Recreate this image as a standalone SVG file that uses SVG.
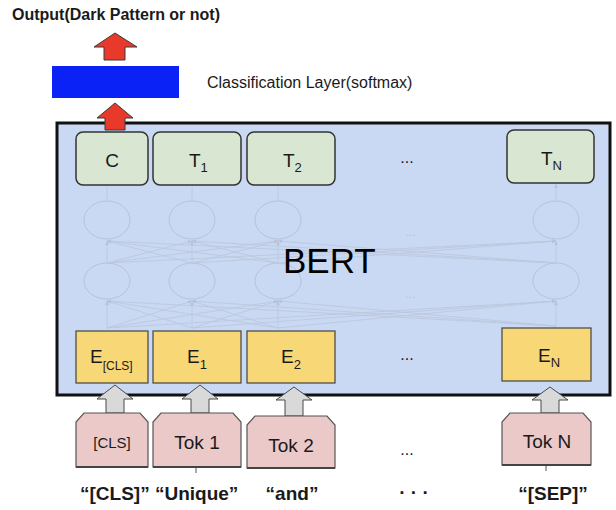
<svg xmlns="http://www.w3.org/2000/svg" width="616" height="510" viewBox="0 0 616 510">
<defs>
<style>
.t{font-family:"Liberation Sans",Arial,sans-serif;fill:#1a1a1a}
.b{font-weight:bold}
.tbox{fill:#d9e6d2;stroke:#333;stroke-width:1.5}
.ebox{fill:#f8d776;stroke:#444;stroke-width:1.2}
.tok{fill:#ecc9c9;stroke:#555;stroke-width:1.2}
.nn{fill:none;stroke:#b6c2da;stroke-width:1}
.nnl{stroke:#bcc7dd;stroke-width:0.9;fill:none;marker-end:url(#ah)}
.red{fill:#e8392b;stroke:#3a3a3a;stroke-width:1}
.gray{fill:#d9d9d9;stroke:#4a4a4a;stroke-width:1}
</style>
<marker id="ah" viewBox="0 0 10 10" refX="9" refY="5" markerWidth="5" markerHeight="5" orient="auto">
<path d="M0,1 L10,5 L0,9 z" fill="#b6c2da"/>
</marker>
</defs>
<rect width="616" height="510" fill="#fff"/>

<text class="t b" x="12" y="20" font-size="16">Output(Dark Pattern or not)</text>

<g id="classifier">
<rect x="52" y="66" width="127" height="32" fill="#0a22f5"/>
<text class="t" x="207" y="88" font-size="16">Classification Layer(softmax)</text>
</g>

<g id="bert">
<rect x="57" y="123" width="553" height="272" fill="#c9d9f3" stroke="#111" stroke-width="3"/>
</g>

<g id="network">
<ellipse class="nn" cx="107" cy="220" rx="23" ry="19"/>
<ellipse class="nn" cx="192" cy="220" rx="23" ry="19"/>
<ellipse class="nn" cx="278" cy="220" rx="23" ry="19"/>
<ellipse class="nn" cx="556" cy="220" rx="23" ry="19"/>
<ellipse class="nn" cx="107" cy="281" rx="23" ry="18"/>
<ellipse class="nn" cx="192" cy="281" rx="23" ry="18"/>
<ellipse class="nn" cx="278" cy="281" rx="23" ry="18"/>
<ellipse class="nn" cx="556" cy="281" rx="23" ry="18"/>
<text x="410" y="236" font-family="Liberation Sans,sans-serif" font-size="12" fill="#b6c2da" text-anchor="middle">...</text>
<text x="410" y="298" font-family="Liberation Sans,sans-serif" font-size="12" fill="#b6c2da" text-anchor="middle">...</text>
</g>

<g id="connectors">
<path class="nnl" d="M107,201 V186 M192,201 V186 M278,201 V186 M556,201 V184" />
<path class="nnl" d="M107,263 L107,241"/><path class="nnl" d="M192,263 L107,241"/><path class="nnl" d="M278,263 L107,241"/><path class="nnl" d="M556,263 L107,241"/>
<path class="nnl" d="M107,263 L192,241"/><path class="nnl" d="M192,263 L192,241"/><path class="nnl" d="M278,263 L192,241"/><path class="nnl" d="M556,263 L192,241"/>
<path class="nnl" d="M107,263 L278,241"/><path class="nnl" d="M192,263 L278,241"/><path class="nnl" d="M278,263 L278,241"/><path class="nnl" d="M556,263 L278,241"/>
<path class="nnl" d="M107,263 L556,241"/><path class="nnl" d="M192,263 L556,241"/><path class="nnl" d="M278,263 L556,241"/><path class="nnl" d="M556,263 L556,241"/>
<path class="nnl" d="M107,328 L107,301"/><path class="nnl" d="M192,328 L107,301"/><path class="nnl" d="M278,328 L107,301"/><path class="nnl" d="M556,326 L107,301"/>
<path class="nnl" d="M107,328 L192,301"/><path class="nnl" d="M192,328 L192,301"/><path class="nnl" d="M278,328 L192,301"/><path class="nnl" d="M556,326 L192,301"/>
<path class="nnl" d="M107,328 L278,301"/><path class="nnl" d="M192,328 L278,301"/><path class="nnl" d="M278,328 L278,301"/><path class="nnl" d="M556,326 L278,301"/>
<path class="nnl" d="M107,328 L556,301"/><path class="nnl" d="M192,328 L556,301"/><path class="nnl" d="M278,328 L556,301"/><path class="nnl" d="M556,326 L556,301"/>
<path class="red" d="M115,33 L137,47 L125,47 L125,60 L104,60 L104,47 L94,47 Z"/>
<path class="red" d="M115,103 L133,118 L125,118 L125,130 L105,130 L105,118 L97,118 Z"/>
<path class="gray" d="M115,385 L133,399 L124,399 L124,413 L106,413 L106,399 L97,399 Z"/>
<path class="gray" d="M200,385 L218,399 L209,399 L209,413 L191,413 L191,399 L182,399 Z"/>
<path class="gray" d="M294,387 L312,400 L303,400 L303,416 L285,416 L285,400 L276,400 Z"/>
<path class="gray" d="M550,387 L568,400 L559,400 L559,413 L541,413 L541,400 L532,400 Z"/>
<path d="M196,467 V473 M546,465 V471" stroke="#555" stroke-width="1"/>
</g>

<g id="bert-label"><text class="t" x="283" y="273" font-size="35" style="fill:#000">BERT</text></g>

<g id="C"><rect class="tbox" x="76" y="132" width="72" height="53" rx="7"/><text class="t" x="112" y="167" font-size="19" text-anchor="middle">C</text></g>
<g id="T1"><rect class="tbox" x="153" y="132" width="88" height="53" rx="7"/><text class="t" x="189" y="167" font-size="19">T<tspan font-size="13" dy="5">1</tspan></text></g>
<g id="T2"><rect class="tbox" x="247" y="132" width="88" height="53" rx="7"/><text class="t" x="283" y="167" font-size="19">T<tspan font-size="13" dy="5">2</tspan></text></g>
<g id="Tdots"><text class="t" x="407" y="163" font-size="16" text-anchor="middle">...</text></g>
<g id="TN"><rect class="tbox" x="507" y="130" width="87" height="53" rx="7"/><text class="t" x="541" y="165" font-size="19">T<tspan font-size="13" dy="5">N</tspan></text></g>

<g id="ECLS"><rect class="ebox" x="76" y="331" width="72" height="52"/><text class="t" x="90" y="363" font-size="19">E<tspan font-size="12" dy="7">[CLS]</tspan></text></g>
<g id="E1"><rect class="ebox" x="153" y="331" width="88" height="52"/><text class="t" x="187" y="363" font-size="19">E<tspan font-size="13" dy="6">1</tspan></text></g>
<g id="E2"><rect class="ebox" x="247" y="331" width="88" height="52"/><text class="t" x="281" y="363" font-size="19">E<tspan font-size="13" dy="6">2</tspan></text></g>
<g id="Edots"><text class="t" x="407" y="360" font-size="16" text-anchor="middle">...</text></g>
<g id="EN"><rect class="ebox" x="502" y="328" width="89" height="53"/><text class="t" x="538" y="362" font-size="19">E<tspan font-size="13" dy="5">N</tspan></text></g>

<g id="TokCLS"><path class="tok" d="M76,467 V422 L84,413 H140 L148,422 V467 Z"/><path d="M76,467 H148" stroke="#444" stroke-width="2"/><text class="t" x="112" y="448" font-size="15" text-anchor="middle">[CLS]</text></g>
<g id="Tok1"><path class="tok" d="M153,467 V422 L161,413 H233 L241,422 V467 Z"/><path d="M153,467 H241" stroke="#444" stroke-width="2"/><text class="t" x="197" y="449" font-size="19" text-anchor="middle">Tok 1</text></g>
<g id="Tok2"><path class="tok" d="M247,468 V425 L255,416 H327 L335,425 V468 Z"/><path d="M247,468 H335" stroke="#444" stroke-width="2"/><text class="t" x="291" y="452" font-size="19" text-anchor="middle">Tok 2</text></g>
<g id="Tokdots"><text class="t" x="407" y="455" font-size="16" text-anchor="middle">...</text></g>
<g id="TokN"><path class="tok" d="M502,465 V422 L510,413 H583 L591,422 V465 Z"/><path d="M502,465 H591" stroke="#444" stroke-width="2"/><text class="t" x="547" y="448" font-size="19" text-anchor="middle">Tok N</text></g>

<g id="labels">
<text class="t b" x="80" y="500" font-size="19">“[CLS]” “Unique”</text>
<text class="t b" x="292" y="500" font-size="19" text-anchor="middle">“and”</text>
<text class="t b" x="414" y="499" font-size="19" text-anchor="middle">·  ·  ·</text>
<text class="t b" x="553" y="500" font-size="19" text-anchor="middle">“[SEP]”</text>
</g>
</svg>
